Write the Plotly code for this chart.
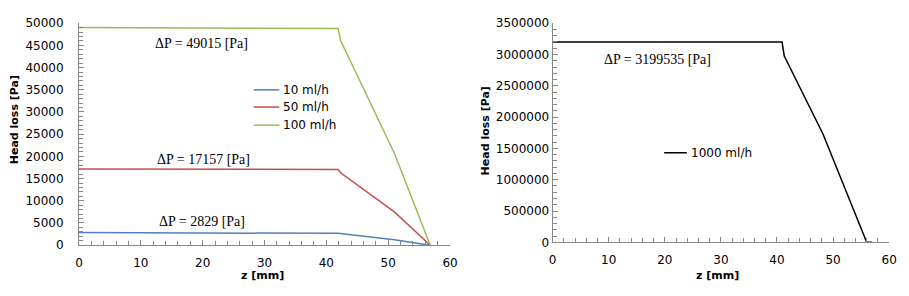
import plotly.graph_objects as go

# ---- data ----
z_low = [0, 20, 41.9, 51, 56.8]
p_10 = [2830, 2800, 2660, 1220, 0]

z_mid = [0, 20, 41.9, 42.3, 51, 56.8]
p_50 = [17157, 17150, 17070, 16300, 7500, 0]
p_100 = [49015, 48950, 48790, 46100, 20700, 0]

z_high = [0, 20, 40.9, 41.3, 48.2, 56.0, 57.0]
p_1000 = [3199535, 3199000, 3198000, 2976000, 1730000, 0, 0]

labels_left = ["10 ml/h", "50 ml/h", "100 ml/h"]
label_right = "1000 ml/h"
dp_left = ["ΔP = 49015 [Pa]", "ΔP = 17157 [Pa]", "ΔP = 2829 [Pa]"]
dp_right = "ΔP = 3199535 [Pa]"

colors = ["#4F81BD", "#C0504D", "#9BBB59"]

fig = go.Figure()
fig.add_trace(go.Scatter(x=z_low, y=p_10, mode="lines", name=labels_left[0],
                         line=dict(color=colors[0], width=1.5), xaxis="x", yaxis="y"))
fig.add_trace(go.Scatter(x=z_mid, y=p_50, mode="lines", name=labels_left[1],
                         line=dict(color=colors[1], width=1.5), xaxis="x", yaxis="y"))
fig.add_trace(go.Scatter(x=z_mid, y=p_100, mode="lines", name=labels_left[2],
                         line=dict(color=colors[2], width=1.5), xaxis="x", yaxis="y"))
fig.add_trace(go.Scatter(x=z_high, y=p_1000, mode="lines", name=label_right,
                         line=dict(color="#000000", width=1.5), xaxis="x2", yaxis="y2"))

W, H = 909, 296

def px(x):
    return x / W

def py(y):
    return 1 - y / H

axcol = "#878787"
tickfont = dict(family="DejaVu Sans", size=12, color="#000000")

def xax(x0, x1, anchor):
    return dict(domain=[px(x0), px(x1)], anchor=anchor, range=[0, 60], dtick=10, tick0=0,
                showline=True, linecolor=axcol, linewidth=1, showgrid=False, zeroline=False,
                ticks="inside", ticklen=5, tickcolor=axcol, tickfont=tickfont,
                ticklabelstandoff=6,
                minor=dict(dtick=2, ticks="inside", ticklen=4, tickcolor=axcol, showgrid=False),
                fixedrange=True)

def yax(ytop, ybot, anchor, rng, dt, mdt, standoff):
    return dict(domain=[py(ybot), py(ytop)], anchor=anchor, range=rng, dtick=dt, tick0=0,
                showline=True, linecolor=axcol, linewidth=1, showgrid=False, zeroline=False,
                ticks="inside", ticklen=5, tickcolor=axcol, tickfont=tickfont,
                ticklabelstandoff=standoff, tickformat="d",
                minor=dict(dtick=mdt, ticks="inside", ticklen=4, tickcolor=axcol, showgrid=False),
                fixedrange=True)

fig.update_layout(
    width=W, height=H,
    margin=dict(l=0, r=0, t=0, b=0),
    paper_bgcolor="white", plot_bgcolor="white",
    showlegend=False,
    xaxis=xax(76, 452, "y"),
    yaxis=yax(17, 250, "x", [0, 50000], 5000, 1000, 12),
    xaxis2=xax(556, 897, "y2"),
    yaxis2=yax(17, 247, "x2", [0, 3500000], 500000, 100000, 0),
)

ann = []
tfont = dict(family="Liberation Serif", size=14, color="#000000")
for txt, (xp, yp) in zip(dp_left, [(200, 38), (202, 160), (201, 225)]):
    ann.append(dict(text=txt, x=px(xp), y=py(yp), xref="paper", yref="paper",
                    showarrow=False, font=tfont, xanchor="center", yanchor="middle"))
ann.append(dict(text=dp_right, x=px(662), y=py(55), xref="paper", yref="paper",
                showarrow=False, font=tfont, xanchor="center", yanchor="middle"))

bfont = dict(family="DejaVu Sans", size=11, color="#000000")
ann.append(dict(text="<b>Head loss [Pa]</b>", x=px(11), y=py(118), xref="paper", yref="paper",
                showarrow=False, font=bfont, textangle=-90, xanchor="center", yanchor="middle"))
ann.append(dict(text="<b>Head loss [Pa]</b>", x=px(488), y=py(130), xref="paper", yref="paper",
                showarrow=False, font=bfont, textangle=-90, xanchor="center", yanchor="middle"))
ann.append(dict(text="<b>z [mm]</b>", x=px(262), y=py(282), xref="paper", yref="paper",
                showarrow=False, font=bfont, xanchor="center", yanchor="middle"))
ann.append(dict(text="<b>z [mm]</b>", x=px(723), y=py(282), xref="paper", yref="paper",
                showarrow=False, font=bfont, xanchor="center", yanchor="middle"))

shapes = []
lfont = dict(family="DejaVu Sans", size=12, color="#000000")
for lab, col, yp in zip(labels_left, colors, [87, 105, 124]):
    shapes.append(dict(type="line", xref="paper", yref="paper", x0=px(253), x1=px(279),
                       y0=py(yp), y1=py(yp), line=dict(color=col, width=1.5)))
    ann.append(dict(text=lab, x=px(281), y=py(yp), xref="paper", yref="paper",
                    showarrow=False, font=lfont, xanchor="left", yanchor="middle"))
shapes.append(dict(type="line", xref="paper", yref="paper", x0=px(669), x1=px(692),
                   y0=py(153), y1=py(153), line=dict(color="#000000", width=1.5)))
ann.append(dict(text=label_right, x=px(694), y=py(153), xref="paper", yref="paper",
                showarrow=False, font=lfont, xanchor="left", yanchor="middle"))

fig.update_layout(annotations=ann, shapes=shapes)
fig.write_html(
    "out.html",
    config={"displayModeBar": False},
    post_script="document.body.style.margin='0';document.body.style.overflow='hidden';",
)
